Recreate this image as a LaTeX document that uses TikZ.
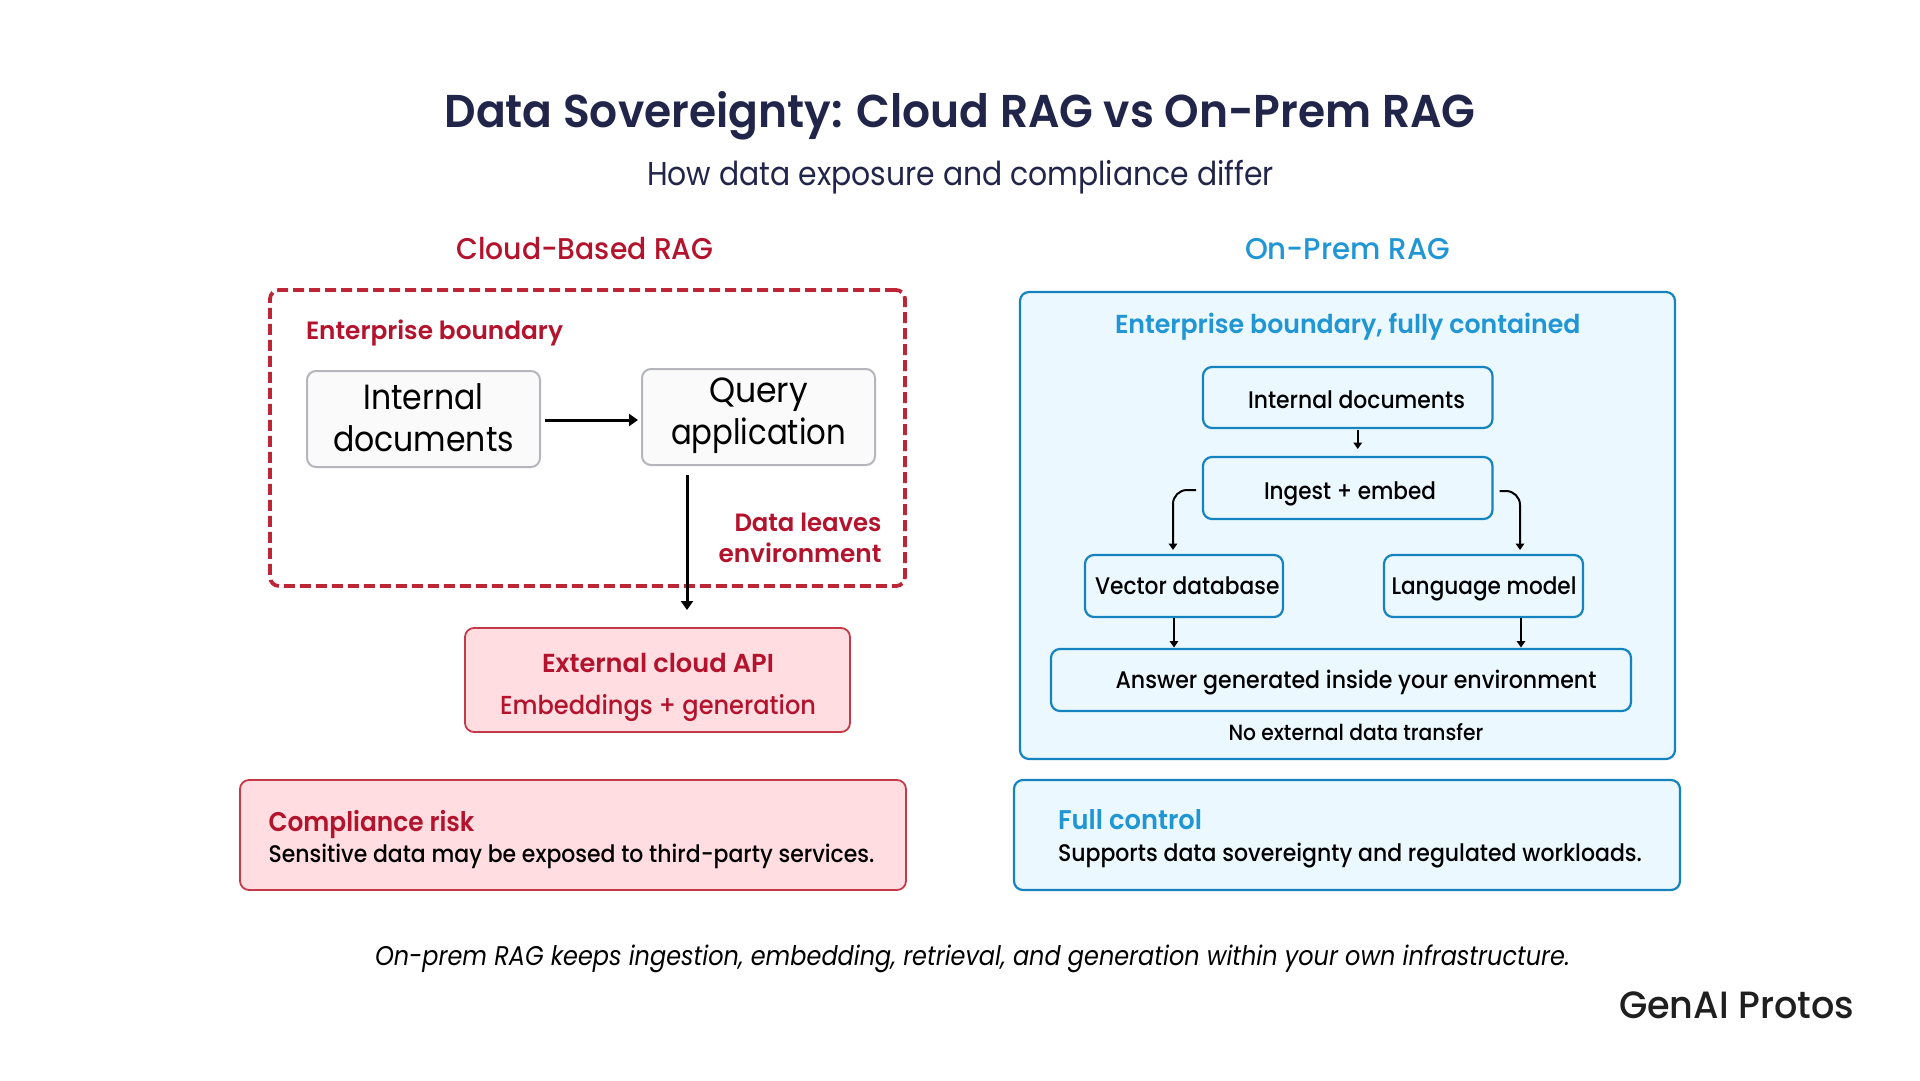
\documentclass[tikz,border=0pt]{standalone}
\usepackage{fontspec}
\usetikzlibrary{arrows.meta}
\setmainfont{Poppins}[BoldFont={Poppins SemiBold},ItalicFont={Poppins Italic}]
\newfontfamily\medf{Poppins Medium}
\newcommand\fs[1]{\fontsize{#1}{#1}\selectfont}
\newsavebox\fitbox
\newcommand\fit[2]{\sbox\fitbox{#2}\pgfmathsetmacro\fitr{#1/\the\wd\fitbox}\scalebox{\fitr}[1]{\usebox\fitbox}}
\definecolor{navy}{HTML}{22254A}
\definecolor{crim}{HTML}{B3132C}
\definecolor{sky}{HTML}{2096D4}
\definecolor{skyline}{HTML}{1583BE}
\definecolor{skyfill}{HTML}{EBF8FF}
\definecolor{pink}{HTML}{FFDDE1}
\definecolor{redline}{HTML}{C43A48}
\definecolor{dashred}{HTML}{BC2636}
\definecolor{greyline}{HTML}{B4B6BC}
\definecolor{greyfill}{HTML}{FAFAFA}
\tikzset{
  boxbase/.style={rounded corners=9pt,inner sep=0,outer sep=0},
  dashbox/.style={boxbase,draw=dashred,line width=3.8pt,dash pattern=on 11pt off 5pt},
  greybox/.style={boxbase,draw=greyline,fill=greyfill,line width=2pt},
  pinkbox/.style={boxbase,draw=redline,fill=pink,line width=1.8pt},
  skybox/.style={boxbase,draw=skyline,fill=skyfill,line width=2.2pt},
  lab/.style={inner sep=0,outer sep=0,anchor=base west,text=black},
  labred/.style={lab,text=crim},
  labsky/.style={lab,text=sky},
  arrbig/.style={line width=3pt,-{Triangle[length=9pt,width=12pt]}},
  arrsmall/.style={line width=2pt,-{Triangle[length=6.5pt,width=8.5pt]}},
}
\begin{document}
\begin{tikzpicture}[x=1pt,y=-1pt]
\path[use as bounding box,fill=white] (0,0) rectangle (1920,1080);
% titles
\node[lab,text=navy,font=\bfseries\fs{46}] (title) at (444.5,127.5) {\fit{1031}{Data Sovereignty: Cloud RAG vs On-Prem RAG}};
\node[lab,text=navy,font=\fs{33}] (sub) at (647,185) {\fit{627}{How data exposure and compliance differ}};
\node[labred,font=\medf\fs{30}] (cloudh) at (456.5,259) {\fit{257}{Cloud-Based RAG}};
\node[labsky,font=\medf\fs{30}] (premh) at (1245,259) {\fit{205}{On-Prem RAG}};
% left panel
\node[dashbox,minimum width=635pt,minimum height=296pt] (ent) at (587.5,438) {};
\node[labred,font=\bfseries\fs{25}] (entl) at (306,339.5) {\fit{257}{Enterprise boundary}};
\node[greybox,minimum width=233pt,minimum height=96pt] (int) at (423.5,419) {};
\node[lab,font=\fs{35}] (intA) at (363.5,409) {\fit{120}{Internal}};
\node[lab,font=\fs{35}] (intB) at (333,451) {\fit{181}{documents}};
\node[greybox,minimum width=233pt,minimum height=96pt] (qry) at (758.5,417) {};
\node[lab,font=\fs{35}] (qryA) at (709,402) {\fit{99}{Query}};
\node[lab,font=\fs{35}] (qryB) at (671,444) {\fit{175}{application}};
\node[labred,font=\bfseries\fs{25}] (leaveA) at (734.5,531) {\fit{147}{Data leaves}};
\node[labred,font=\bfseries\fs{25}] (leaveB) at (718.5,562) {\fit{163}{environment}};
\node[pinkbox,minimum width=385pt,minimum height=104pt] (ext) at (657.5,680) {};
\node[labred,font=\bfseries\fs{26}] (extA) at (542,672) {\fit{232}{External cloud API}};
\node[labred,font=\medf\fs{26}] (extB) at (500,714) {\fit{316}{Embeddings + generation}};
\node[pinkbox,minimum width=666pt,minimum height=110pt] (comp) at (573,835) {};
\node[labred,font=\bfseries\fs{27}] (compA) at (268.5,831) {\fit{206}{Compliance risk}};
\node[lab,font=\medf\fs{24}] (compB) at (268.5,862) {\fit{606}{Sensitive data may be exposed to third-party services.}};
\draw[arrbig] ([xshift=4.5pt,yshift=-1pt]int.east) -- ([xshift=-4pt,yshift=-3pt]qry.west);
\draw[arrbig] ([xshift=-71.5pt,yshift=-10pt]qry.south) -- ([xshift=29.5pt,yshift=18pt]ext.north);
% right panel
\node[skybox,minimum width=655pt,minimum height=467pt] (out) at (1347.5,525.5) {};
\node[labsky,font=\bfseries\fs{26}] (outl) at (1115,333) {\fit{465.5}{Enterprise boundary, fully contained}};
\node[skybox,minimum width=289.5pt,minimum height=61pt] (id) at (1347.75,397.5) {};
\node[lab,font=\medf\fs{24}] (idl) at (1248,408) {\fit{217}{Internal documents}};
\node[skybox,minimum width=289.5pt,minimum height=62pt] (ing) at (1347.75,488) {};
\node[lab,font=\medf\fs{24}] (ingl) at (1264,499) {\fit{172}{Ingest + embed}};
\node[skybox,minimum width=198pt,minimum height=62pt] (vec) at (1184,586) {};
\node[lab,font=\medf\fs{24}] (vecl) at (1095,594) {\fit{184.5}{Vector database}};
\node[skybox,minimum width=199pt,minimum height=62pt] (lang) at (1483.5,586) {};
\node[lab,font=\medf\fs{24}] (langl) at (1391.5,594) {\fit{185}{Language model}};
\node[skybox,minimum width=580pt,minimum height=62pt] (ans) at (1341,680) {};
\node[lab,font=\medf\fs{24}] (ansl) at (1115.5,688) {\fit{481}{Answer generated inside your environment}};
\node[lab,font=\medf\fs{22}] (none) at (1228.5,740) {\fit{255}{No external data transfer}};
\draw[arrsmall] ([xshift=10pt,yshift=-2pt]id.south) -- ([xshift=10pt,yshift=8pt]ing.north);
\draw[arrsmall,rounded corners=14pt] ([xshift=-7pt,yshift=-2pt]ing.west) -| ([xshift=-11pt,yshift=5pt]vec.north);
\draw[arrsmall,rounded corners=14pt] ([xshift=7pt,yshift=-3pt]ing.east) -| ([xshift=36.5pt,yshift=5pt]lang.north);
\draw[arrsmall] ([xshift=-10pt,yshift=-1pt]vec.south) -- ([xshift=-167pt,yshift=1.5pt]ans.north);
\draw[arrsmall] ([xshift=37.5pt,yshift=-1pt]lang.south) -- ([xshift=180pt,yshift=1.5pt]ans.north);
\node[skybox,minimum width=666pt,minimum height=110pt] (full) at (1347,835) {};
\node[labsky,font=\bfseries\fs{27}] (fullA) at (1058,829) {\fit{144}{Full control}};
\node[lab,font=\medf\fs{24}] (fullB) at (1058,861.5) {\fit{584}{Supports data sovereignty and regulated workloads.}};
% footer
\node[lab,font=\itshape\fs{27}] (foot) at (375,965) {\fit{1195}{On-prem RAG keeps ingestion, embedding, retrieval, and generation within your own infrastructure.}};
\node[lab,text=black!88,font=\medf\fs{38}] (logo) at (1619,1018) {\fit{235}{GenAI Protos}};
\end{tikzpicture}
\end{document}
